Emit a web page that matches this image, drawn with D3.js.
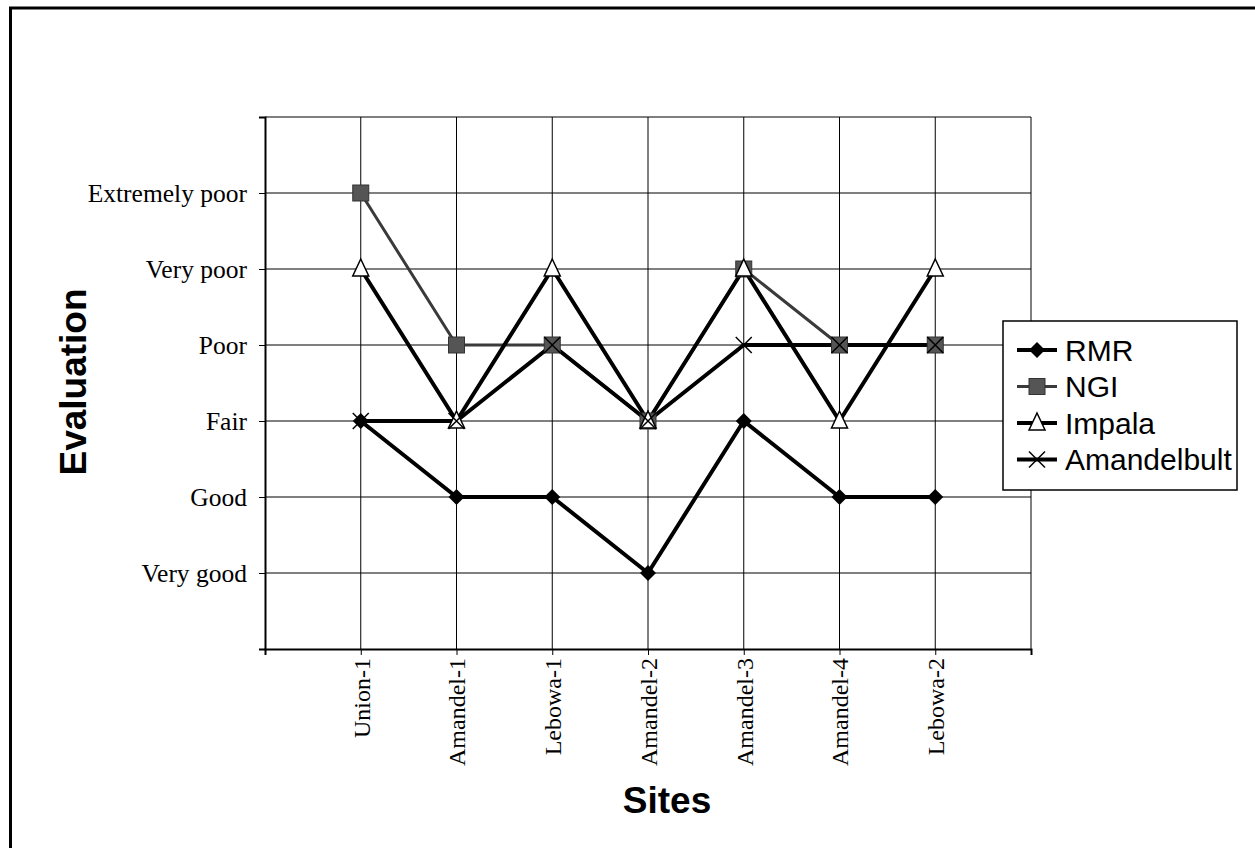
<!DOCTYPE html>
<html>
<head>
<meta charset="utf-8">
<script src="https://cdn.jsdelivr.net/npm/d3@7"></script>
<style>
  body { margin: 0; background: #fff; }
  svg { display: block; }
</style>
</head>
<body>
<svg id="chart" width="1255" height="848"></svg>
<script>
// Sites along the x axis
const sites = ["Union-1", "Amandel-1", "Lebowa-1", "Amandel-2", "Amandel-3", "Amandel-4", "Lebowa-2"];
// Rating scale (index = numeric level)
const levels = ["", "Very good", "Good", "Fair", "Poor", "Very poor", "Extremely poor", ""];
// Ratings per classification system
const rmr = [3, 2, 2, 1, 3, 2, 2];
const ngi = [6, 4, 4, 3, 5, 4, 4];
const impala = [5, 3, 5, 3, 5, 3, 5];
const amandelbult = [3, 3, 4, 3, 4, 4, 4];

const seriesNames = ["RMR", "NGI", "Impala", "Amandelbult"];
const seriesValues = [rmr, ngi, impala, amandelbult];

const svg = d3.select("#chart");

// outer frame (top and left edges)
svg.append("line").attr("x1", 9).attr("x2", 1255).attr("y1", 8).attr("y2", 8)
  .attr("stroke", "#000").attr("stroke-width", 3);
svg.append("line").attr("x1", 10.5).attr("x2", 10.5).attr("y1", 7).attr("y2", 848)
  .attr("stroke", "#000").attr("stroke-width", 3);

const plot = { left: 265, right: 1031, top: 117, bottom: 649 };

const x = d3.scaleLinear().domain([0, sites.length + 1]).range([plot.left, plot.right]);
const y = d3.scaleLinear().domain([0, levels.length - 1]).range([plot.bottom, plot.top]);

const g = svg.append("g");

// gridlines
g.append("g").selectAll("line").data(d3.range(1, levels.length)).join("line")
  .attr("x1", plot.left).attr("x2", plot.right)
  .attr("y1", d => y(d)).attr("y2", d => y(d))
  .attr("stroke", "#000").attr("stroke-width", 1);
g.append("g").selectAll("line").data(d3.range(1, sites.length + 2)).join("line")
  .attr("y1", plot.top).attr("y2", plot.bottom)
  .attr("x1", d => x(d)).attr("x2", d => x(d))
  .attr("stroke", "#000").attr("stroke-width", 1);

// y axis
const yAxis = d3.axisLeft(y)
  .tickValues(d3.range(0, levels.length))
  .tickFormat(d => levels[d])
  .tickSize(6).tickPadding(12);
const ya = g.append("g").attr("transform", `translate(${plot.left},0)`).call(yAxis);
ya.select(".domain").attr("stroke-width", 2);
ya.selectAll(".tick line").attr("stroke-width", 1);
ya.selectAll("text").attr("font-family", "Liberation Serif, Times New Roman, serif")
  .attr("font-size", 25.5).attr("fill", "#000");

// x axis
const xAxis = d3.axisBottom(x)
  .tickValues(d3.range(0, sites.length + 2))
  .tickFormat(d => (d >= 1 && d <= sites.length) ? sites[d - 1] : "")
  .tickSize(6).tickPadding(0);
const xa = g.append("g").attr("transform", `translate(0,${plot.bottom})`).call(xAxis);
xa.select(".domain").attr("stroke-width", 2);
xa.selectAll("text")
  .attr("font-family", "Liberation Serif, Times New Roman, serif")
  .attr("font-size", 24).attr("fill", "#000")
  .attr("transform", "rotate(-90)")
  .attr("text-anchor", "end")
  .attr("x", -9).attr("y", 0).attr("dy", "0.35em");

// axis titles
svg.append("text").attr("x", 667).attr("y", 813)
  .attr("text-anchor", "middle")
  .attr("font-family", "Liberation Sans, Arial, sans-serif")
  .attr("font-weight", "bold").attr("font-size", 37).text("Sites");
svg.append("text")
  .attr("transform", "translate(86,382) rotate(-90)")
  .attr("text-anchor", "middle")
  .attr("font-family", "Liberation Sans, Arial, sans-serif")
  .attr("font-weight", "bold").attr("font-size", 37).text("Evaluation");

// series styles
const styles = [
  { stroke: "#000", width: 4 },
  { stroke: "#3a3a3a", width: 3 },
  { stroke: "#000", width: 4 },
  { stroke: "#000", width: 4 }
];

function drawMarker(sel, i) {
  if (i === 0) {
    sel.append("path").attr("d", "M0,-8L8,0L0,8L-8,0Z").attr("fill", "#000");
  } else if (i === 1) {
    sel.append("rect").attr("x", -8).attr("y", -8).attr("width", 16).attr("height", 16)
      .attr("fill", "#555").attr("stroke", "#333").attr("stroke-width", 1);
  } else if (i === 2) {
    sel.append("path").attr("d", "M0,-10L8,7L-8,7Z")
      .attr("fill", "#fff").attr("stroke", "#000").attr("stroke-width", 1.5);
  } else {
    sel.append("path").attr("d", "M-8,-8L8,8M-8,8L8,-8")
      .attr("stroke", "#000").attr("stroke-width", 1.5).attr("fill", "none");
  }
}

const line = d3.line().x((d, i) => x(i + 1)).y(d => y(d));

seriesValues.forEach((vals, i) => {
  g.append("path").datum(vals).attr("d", line)
    .attr("fill", "none").attr("stroke", styles[i].stroke)
    .attr("stroke-width", styles[i].width).attr("stroke-linejoin", "round");
});
seriesValues.forEach((vals, i) => {
  g.append("g").selectAll("g").data(vals).join("g")
    .attr("transform", (d, j) => `translate(${x(j + 1)},${y(d)})`)
    .each(function () { drawMarker(d3.select(this), i); });
});

// legend
const legW = 234, legH = 169;
const leg = svg.append("g").attr("transform", "translate(1003,321)");
leg.append("rect").attr("width", legW).attr("height", legH)
  .attr("fill", "#fff").attr("stroke", "#000").attr("stroke-width", 1.5);
const clip = svg.append("defs").append("clipPath").attr("id", "legclip");
clip.append("rect").attr("width", legW - 1).attr("height", legH);
const legItems = leg.append("g").attr("clip-path", "url(#legclip)");
seriesNames.forEach((name, i) => {
  const cy = 29 + i * 36.5;
  const it = legItems.append("g").attr("transform", `translate(0,${cy})`);
  it.append("line").attr("x1", 14).attr("x2", 54).attr("y1", 0).attr("y2", 0)
    .attr("stroke", styles[i].stroke).attr("stroke-width", styles[i].width);
  const m = it.append("g").attr("transform", "translate(34,0)");
  drawMarker(m, i);
  it.append("text").attr("x", 62).attr("y", 0).attr("dy", "0.36em")
    .attr("font-family", "Liberation Sans, Arial, sans-serif")
    .attr("font-size", 30).text(name);
});
</script>
</body>
</html>
